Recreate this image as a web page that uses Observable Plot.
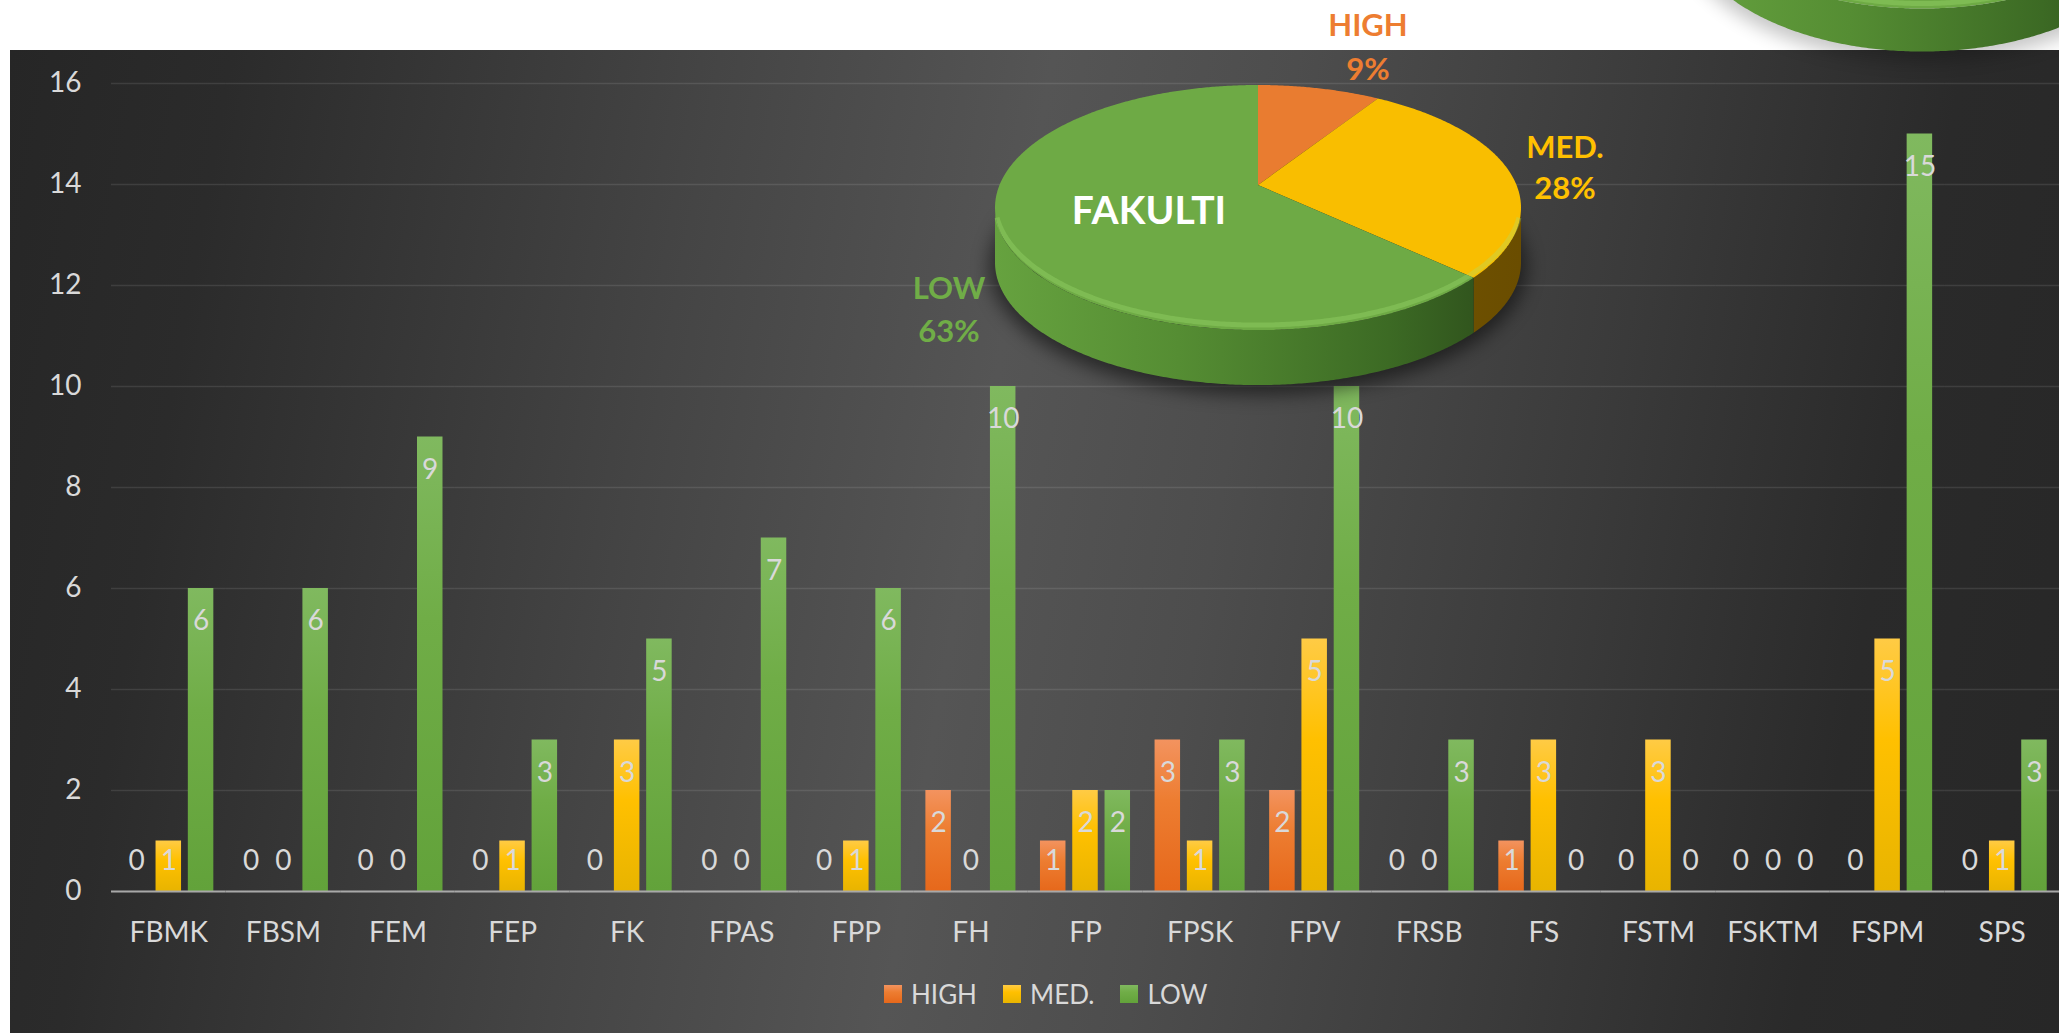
<!DOCTYPE html>
<html>
<head>
<meta charset="utf-8">
<script src="https://cdn.jsdelivr.net/npm/d3@7"></script>
<script src="https://cdn.jsdelivr.net/npm/@observablehq/plot@0.6"></script>
<style>
  html, body { margin: 0; padding: 0; background: #ffffff; overflow: hidden; }
  #wrap { position: relative; width: 2059px; height: 1033px; font-family: Lato, "Open Sans", sans-serif; }
  #panel { position: absolute; left: 10px; top: 50px; width: 2049px; height: 983px;
    background: linear-gradient(100deg, #262626 0%, #2b2b2b 10%, #454545 32%, #555555 47%, #4d4d4d 58%, #3a3a3a 75%, #2a2a2a 88%, #272727 100%); }
  #chart { position: absolute; left: 0; top: 0; width: 2059px; }
  #legend { position: absolute; left: 884px; top: 976px; display: flex; align-items: center; color: #d9d9d9; font-size: 26px; }
  #legend .sw { width: 18px; height: 18px; margin-right: 9px; }
  #legend .lbl { margin-right: 26px; line-height: 36px; }
</style>
</head>
<body>
<div id="wrap">
  <div id="panel"></div>
  <div id="chart"></div>
  <div id="legend"></div>
</div>
<script>
// ---------- data ----------
const categories = ["FBMK", "FBSM", "FEM", "FEP", "FK", "FPAS", "FPP", "FH", "FP", "FPSK", "FPV", "FRSB", "FS", "FSTM", "FSKTM", "FSPM", "SPS"];
const seriesNames = ["HIGH", "MED.", "LOW"];
const highValues = [0, 0, 0, 0, 0, 0, 0, 2, 1, 3, 2, 0, 1, 0, 0, 0, 0];
const medValues  = [1, 0, 0, 1, 3, 0, 1, 0, 2, 1, 5, 0, 3, 3, 0, 5, 1];
const lowValues  = [6, 6, 9, 3, 5, 7, 6, 10, 2, 3, 10, 3, 0, 0, 0, 15, 3];
const yTicks = [0, 2, 4, 6, 8, 10, 12, 14, 16];

const pieTitle = "FAKULTI";
const pieLabels = ["HIGH", "MED.", "LOW"];
const piePercents = [9, 28, 63];

// ---------- styles ----------
const seriesColors = { "HIGH": "#ED7D31", "MED.": "#FFC000", "LOW": "#70AD47" };
const barGrad = {
  "HIGH": ["#F3935F", "#E6681B"],
  "MED.": ["#FFCB45", "#E8B400"],
  "LOW":  ["#80B95F", "#62A23A"]
};
const gradId = s => "g" + s.replace(/[^A-Z]/g, "");

const seriesValues = [highValues, medValues, lowValues];
const rows = categories.flatMap((c, i) =>
  seriesNames.map((s, j) => ({ cat: c, series: s, value: seriesValues[j][i] })));

const chart = Plot.plot({
  width: 2059,
  height: 1033,
  marginLeft: 111,
  marginRight: 0,
  marginTop: 83,
  marginBottom: 142,
  style: { background: "transparent", color: "#d9d9d9", fontFamily: "Lato, 'Open Sans', sans-serif", overflow: "visible" },
  fx: { domain: categories, padding: 0, round: false, label: null },
  x: { domain: seriesNames, paddingInner: 0.21, paddingOuter: 0.38, round: false, axis: null },
  y: { domain: [0, 16] },
  color: { domain: seriesNames, range: seriesNames.map(s => `url(#${gradId(s)})`) },
  marks: [
    Plot.gridY(yTicks, { stroke: "#ffffff", strokeOpacity: 0.1, strokeWidth: 1.5 }),
    Plot.axisY(yTicks, { tickSize: 0, tickPadding: 30, fontSize: 28, label: null, fill: "#d9d9d9", tickFormat: d => String(d) }),
    Plot.axisFx({ anchor: "bottom", tickSize: 0, tickPadding: 31, fontSize: 28, label: null, fill: "#d9d9d9" }),
    Plot.barY(rows, { fx: "cat", x: "series", y: "value", fill: "series" }),
    Plot.ruleY([0], { stroke: "#a8a8a8", strokeWidth: 2.2 }),
    Plot.text(rows, {
      fx: "cat", x: "series",
      y: d => Math.max(d.value, 1.25), dy: 33,
      text: d => String(d.value),
      fill: "#d9d9d9", fontSize: 28
    })
  ]
});
document.getElementById("chart").appendChild(chart);

// ---------- gradients ----------
const svg = d3.select(chart);
const defs = svg.insert("defs", ":first-child");
seriesNames.forEach(s => {
  const g = defs.append("linearGradient").attr("id", gradId(s))
    .attr("x1", 0).attr("y1", 0).attr("x2", 0).attr("y2", 1);
  g.append("stop").attr("offset", "0%").attr("stop-color", barGrad[s][0]);
  g.append("stop").attr("offset", "40%").attr("stop-color", seriesColors[s]);
  g.append("stop").attr("offset", "100%").attr("stop-color", barGrad[s][1]);
});
const blur = defs.append("filter").attr("id", "blur").attr("x", "-20%").attr("y", "-40%").attr("width", "140%").attr("height", "180%");
blur.append("feGaussianBlur").attr("stdDeviation", 9);

function sideGradient(id, x0, x1, stops) {
  const g = defs.append("linearGradient").attr("id", id).attr("gradientUnits", "userSpaceOnUse")
    .attr("x1", x0).attr("y1", 0).attr("x2", x1).attr("y2", 0);
  stops.forEach(([o, c]) => g.append("stop").attr("offset", o).attr("stop-color", c));
}

// ---------- 3D pie (perspective projection of a tilted disc) ----------
const sideColors = {
  "HIGH": [["0%", "#b5561a"], ["100%", "#7a3a10"]],
  "MED.": [["0%", "#8a6800"], ["100%", "#6a4d00"]],
  "LOW":  [["0%", "#66a23f"], ["35%", "#558d33"], ["75%", "#3c6a24"], ["100%", "#2b4a1a"]]
};
const topColors = { "HIGH": "#E97C30", "MED.": "#F9BE00", "LOW": "#6EAA45" };

function draw3dPie(layer, names, values, geo, idPrefix) {
  const { cx, cy, R, Rs, k, depth } = geo;
  const proj = (t, dy = 0) => {
    const u = Math.sin(t), v = Math.cos(t), d = 1 + k * v;
    return [cx + R * u / d, cy - Rs * v / d + dy];
  };
  const sample = (a0, a1, dy) => {
    const n = Math.max(2, Math.ceil(Math.abs(a1 - a0) / (Math.PI / 360)));
    return d3.range(n + 1).map(i => proj(a0 + (a1 - a0) * i / n, dy));
  };
  const arcs = d3.pie().sort(null).value(d => d.v)(names.map((n, i) => ({ n, v: values[i] })));
  const g = layer.append("g");
  const yTop = cy - Rs / (1 + k), yBot = cy + Rs / (1 - k);
  const wMax = R / Math.sqrt(1 - k * k);
  // shadow
  g.append("ellipse").attr("cx", cx).attr("cy", (yTop + yBot) / 2 + depth + 4)
    .attr("rx", wMax + 6).attr("ry", (yBot - yTop) / 2 + 6)
    .attr("fill", "#000").attr("opacity", geo.shadow).attr("filter", "url(#blur)");
  names.forEach(n => sideGradient(idPrefix + gradId(n), cx - wMax, cx + wMax, sideColors[n]));
  // visible front side between the silhouette points
  const s0 = Math.acos(-k), s1 = 2 * Math.PI - Math.acos(-k);
  arcs.forEach(a => {
    const b0 = Math.max(a.startAngle, s0), b1 = Math.min(a.endAngle, s1);
    if (b1 <= b0) return;
    const pts = sample(b0, b1, 0).concat(sample(b1, b0, depth));
    g.append("path").attr("d", "M" + pts.join("L") + "Z")
      .attr("fill", `url(#${idPrefix + gradId(a.data.n)})`);
  });
  // top face
  arcs.forEach(a => {
    if (a.endAngle <= a.startAngle) return;
    const pts = [[cx, cy]].concat(sample(a.startAngle, a.endAngle, 0));
    g.append("path").attr("d", "M" + pts.join("L") + "Z").attr("fill", topColors[a.data.n]);
  });
  // bevel highlight along front rim
  g.append("path").attr("d", "M" + sample(s0 + 0.12, s1 - 0.12, -5).join("L"))
    .attr("fill", "none").attr("stroke", "#a6e574").attr("stroke-opacity", 0.3).attr("stroke-width", 5);
  return g;
}

const pieLayer = svg.append("g");

// partially visible pie of the neighbouring chart (top right)
draw3dPie(pieLayer, ["LOW"], [1], { cx: 1922, cy: -150, R: 236, Rs: 130, k: 0.18, depth: 43, shadow: 0.22 }, "o");

// main FAKULTI pie
draw3dPie(pieLayer, pieLabels, piePercents, { cx: 1258, cy: 185, R: 258.5, Rs: 118.4, k: 0.184, depth: 55, shadow: 0.5 }, "m");

// pie labels
const labelLayout = { "HIGH": [1368, 25, 69], "MED.": [1565, 147, 188], "LOW": [949, 288, 331] };
pieLabels.forEach((n, i) => {
  const [x, y1, y2] = labelLayout[n];
  pieLayer.append("text").attr("x", x).attr("y", y1).attr("dy", "0.35em").attr("text-anchor", "middle")
    .attr("font-size", 31).attr("font-weight", "bold").attr("fill", seriesColors[n]).text(n);
  pieLayer.append("text").attr("x", x).attr("y", y2).attr("dy", "0.35em").attr("text-anchor", "middle")
    .attr("font-size", 31).attr("font-weight", "bold").attr("fill", seriesColors[n]).text(piePercents[i] + "%");
});
pieLayer.append("text").attr("x", 1149).attr("y", 210).attr("dy", "0.35em").attr("text-anchor", "middle")
  .attr("font-size", 39).attr("font-weight", "bold").attr("fill", "#ffffff").text(pieTitle);

// ---------- legend ----------
const legend = document.getElementById("legend");
seriesNames.forEach(s => {
  const sw = document.createElement("span");
  sw.className = "sw";
  sw.style.background = `linear-gradient(${barGrad[s][0]}, ${seriesColors[s]} 40%, ${barGrad[s][1]})`;
  const lbl = document.createElement("span");
  lbl.className = "lbl";
  lbl.textContent = s;
  legend.appendChild(sw);
  legend.appendChild(lbl);
});
</script>
</body>
</html>
